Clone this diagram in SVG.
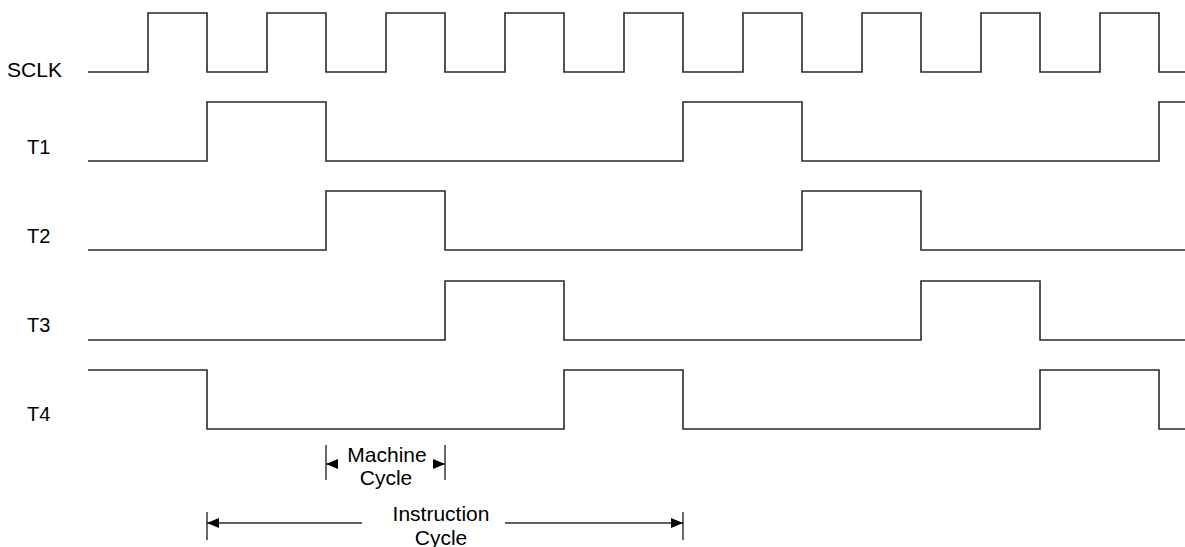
<svg xmlns="http://www.w3.org/2000/svg" width="1185" height="547" viewBox="0 0 1185 547">
<style>
.w{fill:none;stroke:#2a2a2a;stroke-width:1.6;stroke-linejoin:miter}
.lbl{font-family:"Liberation Sans",Arial,sans-serif;font-size:20px;fill:#000}
.cyc{font-family:"Liberation Sans",Arial,sans-serif;font-size:21px;fill:#000;text-anchor:middle}
.bar{stroke:#2a2a2a;stroke-width:1.4}
.dim{fill:none;stroke:#2a2a2a;stroke-width:1.4}
</style>
<defs>
<marker id="ah" viewBox="0 0 12 10" refX="12" refY="5" markerWidth="12" markerHeight="10" markerUnits="userSpaceOnUse" orient="auto">
<path d="M0,0 L12,5 L0,10 Z" fill="#000"/>
</marker>
</defs>
<rect width="1185" height="547" fill="#fff"/>
<g id="sclk">
<text class="lbl" x="7" y="77" style="font-size:21px" textLength="55" lengthAdjust="spacingAndGlyphs">SCLK</text>
<path class="w" d="M88,72 H148 V13 H207 V72 H267 V13 H326 V72 H386 V13 H445 V72 H505 V13 H564 V72 H624 V13 H683 V72 H743 V13 H802 V72 H862 V13 H921 V72 H981 V13 H1040 V72 H1100 V13 H1159 V72 H1185"/>
</g>
<g id="t1">
<text class="lbl" x="27" y="154">T1</text>
<path class="w" d="M88,161 H207 V102 H326 V161 H683 V102 H802 V161 H1159 V102 H1185"/>
</g>
<g id="t2">
<text class="lbl" x="27" y="243">T2</text>
<path class="w" d="M88,250 H326 V191 H445 V250 H802 V191 H921 V250 H1185"/>
</g>
<g id="t3">
<text class="lbl" x="27" y="332">T3</text>
<path class="w" d="M88,340 H445 V281 H564 V340 H921 V281 H1040 V340 H1185"/>
</g>
<g id="t4">
<text class="lbl" x="27" y="421">T4</text>
<path class="w" d="M88,370 H207 V429 H564 V370 H683 V429 H1040 V370 H1159 V429 H1185"/>
</g>
<g id="machine-cycle">
<text class="cyc" x="387" y="462">Machine</text>
<text class="cyc" x="386" y="485">Cycle</text>
</g>
<g id="instruction-cycle">
<text class="cyc" x="441" y="521">Instruction</text>
<text class="cyc" x="441" y="545">Cycle</text>
</g>
<g id="connectors">
<line class="bar" x1="326" y1="445" x2="326" y2="480"/>
<line class="bar" x1="445" y1="445" x2="445" y2="480"/>
<line class="dim" x1="337" y1="464" x2="326" y2="464" marker-end="url(#ah)"/>
<line class="dim" x1="434" y1="464" x2="445" y2="464" marker-end="url(#ah)"/>
<line class="bar" x1="207" y1="512" x2="207" y2="540"/>
<line class="bar" x1="683" y1="512" x2="683" y2="540"/>
<line class="dim" x1="362" y1="523" x2="207" y2="523" marker-end="url(#ah)"/>
<line class="dim" x1="505" y1="523" x2="683" y2="523" marker-end="url(#ah)"/>
</g>
</svg>
